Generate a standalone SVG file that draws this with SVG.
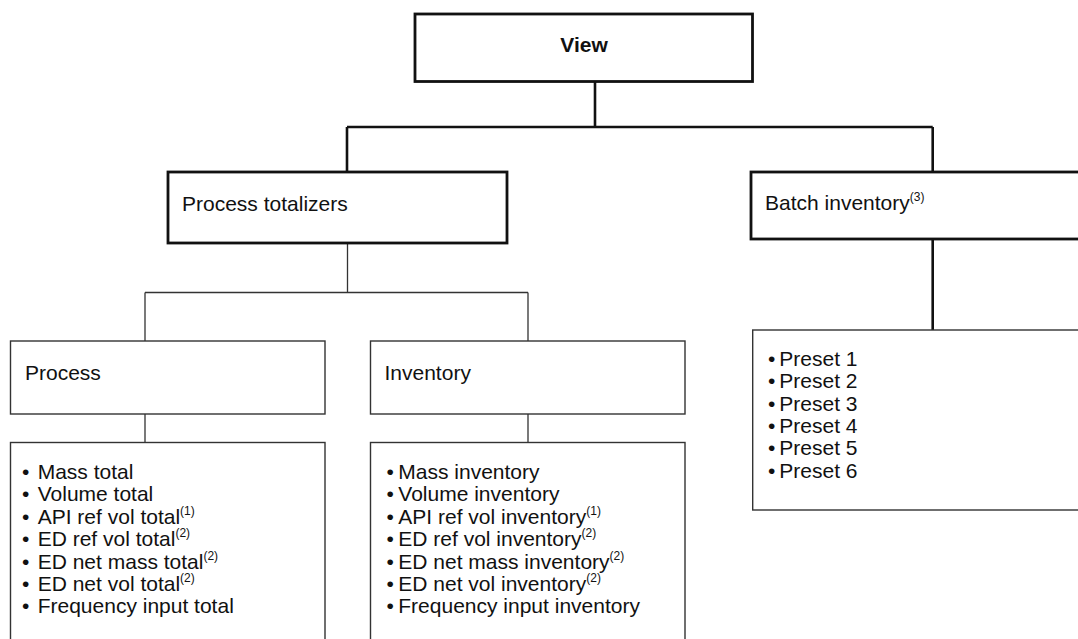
<svg xmlns="http://www.w3.org/2000/svg" width="1078" height="639" viewBox="0 0 1078 639">
<style>
.thick{fill:#fff;stroke:#111;stroke-width:2.8}
.thin{fill:#fff;stroke:#333;stroke-width:1.4}
.cthick{fill:none;stroke:#111;stroke-width:2.6}
.cthin{fill:none;stroke:#333;stroke-width:1.3}
text{font-family:"Liberation Sans",Arial,sans-serif;font-size:21px;fill:#111}
.b{font-weight:bold}
.sup{font-size:12px}
</style>
<rect width="1078" height="639" fill="#fff"/>
<g id="connectors">
<path class="cthick" d="M595,82 V127 M347,127 H932.7 M347,127 V172 M932.7,127 V172 M932.7,239 V330"/>
<path class="cthin" d="M347.5,243 V292.5 M145,292.5 H528 M145,292.5 V341 M528,292.5 V341 M145,414 V442.5 M528,414 V442.5"/>
</g>
<g id="view">
<rect class="thick" x="415" y="14" width="337.5" height="67.5"/>
<text class="b" x="584" y="52" text-anchor="middle">View</text>
</g>
<g id="process-totalizers">
<rect class="thick" x="168" y="172" width="339" height="71"/>
<text x="182" y="211">Process totalizers</text>
</g>
<g id="batch-inventory">
<rect class="thick" x="751" y="172" width="340" height="67"/>
<text x="765" y="210">Batch inventory<tspan class="sup" dy="-9">(3)</tspan></text>
</g>
<g id="process">
<rect class="thin" x="10.5" y="341" width="314.5" height="73"/>
<text x="25" y="380">Process</text>
</g>
<g id="inventory">
<rect class="thin" x="370.5" y="341" width="314.5" height="73"/>
<text x="384.5" y="380">Inventory</text>
</g>
<g id="process-list">
<rect class="thin" x="10.5" y="442.5" width="314.5" height="210"/>
<text x="22" y="479">•<tspan x="37.7">Mass total</tspan></text>
<text x="22" y="501.4">•<tspan x="37.7">Volume total</tspan></text>
<text x="22" y="523.8">•<tspan x="37.7">API ref vol total</tspan><tspan class="sup" dy="-9">(1)</tspan></text>
<text x="22" y="546.2">•<tspan x="37.7">ED ref vol total</tspan><tspan class="sup" dy="-9">(2)</tspan></text>
<text x="22" y="568.6">•<tspan x="37.7">ED net mass total</tspan><tspan class="sup" dy="-9">(2)</tspan></text>
<text x="22" y="591">•<tspan x="37.7">ED net vol total</tspan><tspan class="sup" dy="-9">(2)</tspan></text>
<text x="22" y="613.4">•<tspan x="37.7">Frequency input total</tspan></text>
</g>
<g id="inventory-list">
<rect class="thin" x="370.5" y="442.5" width="314.5" height="210"/>
<text x="386.5" y="479">•<tspan x="398.3">Mass inventory</tspan></text>
<text x="386.5" y="501.4">•<tspan x="398.3">Volume inventory</tspan></text>
<text x="386.5" y="523.8">•<tspan x="398.3">API ref vol inventory</tspan><tspan class="sup" dy="-9">(1)</tspan></text>
<text x="386.5" y="546.2">•<tspan x="398.3">ED ref vol inventory</tspan><tspan class="sup" dy="-9">(2)</tspan></text>
<text x="386.5" y="568.6">•<tspan x="398.3">ED net mass inventory</tspan><tspan class="sup" dy="-9">(2)</tspan></text>
<text x="386.5" y="591">•<tspan x="398.3">ED net vol inventory</tspan><tspan class="sup" dy="-9">(2)</tspan></text>
<text x="386.5" y="613.4">•<tspan x="398.3">Frequency input inventory</tspan></text>
</g>
<g id="presets">
<rect class="thin" x="752.7" y="330" width="340" height="180"/>
<text x="768" y="365.7">•<tspan x="779.3">Preset 1</tspan></text>
<text x="768" y="388.1">•<tspan x="779.3">Preset 2</tspan></text>
<text x="768" y="410.5">•<tspan x="779.3">Preset 3</tspan></text>
<text x="768" y="432.9">•<tspan x="779.3">Preset 4</tspan></text>
<text x="768" y="455.3">•<tspan x="779.3">Preset 5</tspan></text>
<text x="768" y="477.7">•<tspan x="779.3">Preset 6</tspan></text>
</g>
</svg>
